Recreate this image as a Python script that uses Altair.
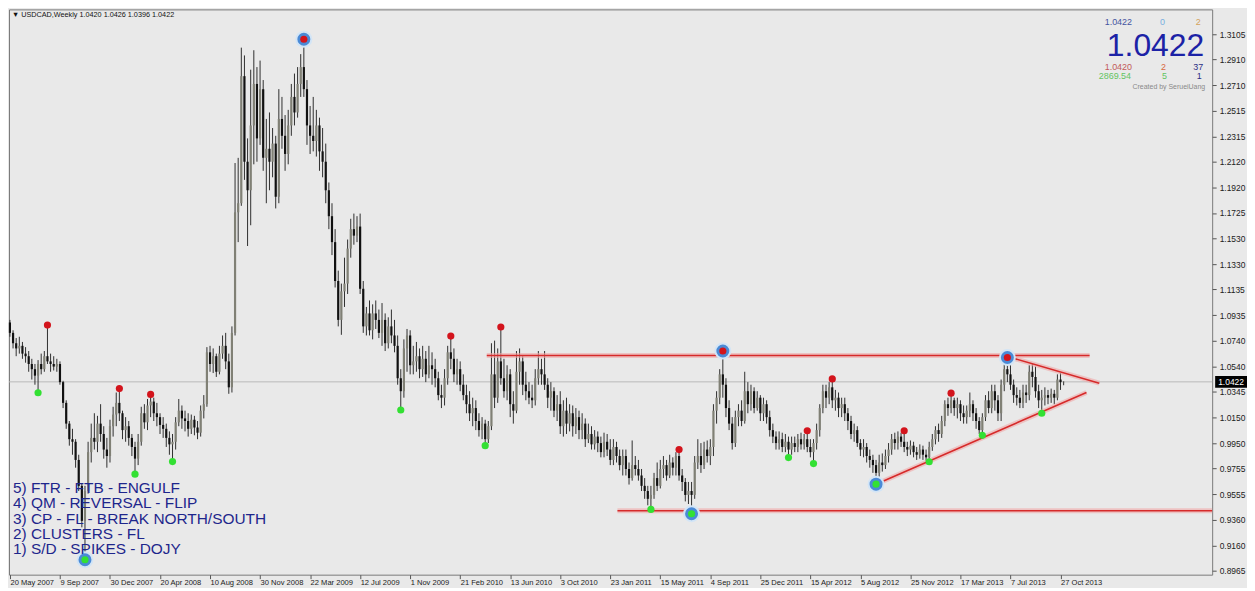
import json
import altair as alt
import pandas as pd

# ---------------- data ----------------
FIRST_OPEN = 1.0880
CLOSE = [
    1.0800, 1.0720, 1.0680, 1.0700, 1.0640, 1.0620, 1.0560, 1.0520, 1.0470, 1.0560,
    1.0520, 1.0620, 1.0580, 1.0560, 1.0540, 1.0560, 1.0420, 1.0260, 1.0100, 0.9980,
    0.9960, 0.9820, 0.9620, 0.9350, 0.9580, 0.9880, 0.9990, 0.9960, 1.0100, 1.0020,
    0.9900, 0.9850, 1.0080, 1.0170, 1.0260, 1.0180, 1.0050, 1.0080, 0.9990, 0.9920,
    0.9830, 0.9960, 1.0180, 1.0110, 1.0240, 1.0270, 1.0180, 1.0150, 1.0090, 1.0060,
    0.9990, 0.9940, 0.9960, 1.0110, 1.0200, 1.0140, 1.0120, 1.0060, 1.0130, 1.0070,
    1.0030, 1.0200, 1.0250, 1.0650, 1.0560, 1.0620, 1.0500, 1.0640, 1.0700, 1.0580,
    1.0380, 1.0800, 1.1730, 1.1800, 1.2780, 1.2120, 1.1900, 1.2400, 1.2720, 1.2300,
    1.2680, 1.2150, 1.2220, 1.2120, 1.2260, 1.1850, 1.2450, 1.2320, 1.2180, 1.2400,
    1.2620, 1.2500, 1.2720, 1.2850, 1.2680, 1.2400, 1.2320, 1.2280, 1.2400, 1.2200,
    1.2120, 1.1900, 1.1700, 1.1500, 1.1200, 1.0900, 1.1120, 1.1180, 1.1450, 1.1600,
    1.1550, 1.1620, 1.1140, 1.0850, 1.0950, 1.0820, 1.0950, 1.0900, 1.0800, 1.0900,
    1.0720, 1.0850, 1.0780, 1.0700, 1.0450, 1.0350, 1.0680, 1.0780, 1.0550, 1.0580,
    1.0620, 1.0520, 1.0600, 1.0480, 1.0550, 1.0520, 1.0450, 1.0320, 1.0300, 1.0450,
    1.0650, 1.0600, 1.0480, 1.0520, 1.0400, 1.0320, 1.0250, 1.0180, 1.0220, 1.0120,
    1.0050, 1.0100, 0.9980, 1.0080, 1.0480, 1.0300, 1.0580, 1.0450, 1.0350, 1.0480,
    1.0250, 1.0200, 1.0500, 1.0580, 1.0400, 1.0350, 1.0300, 1.0280, 1.0450, 1.0520,
    1.0480, 1.0400, 1.0300, 1.0350, 1.0200, 1.0250, 1.0080, 1.0200, 1.0100, 1.0180,
    1.0080, 1.0150, 1.0050, 1.0100, 0.9980, 1.0020, 0.9940, 1.0000, 0.9950, 0.9880,
    0.9960, 0.9900, 0.9820, 0.9920, 0.9850, 0.9780, 0.9850, 0.9750, 0.9680, 0.9780,
    0.9750, 0.9700, 0.9620, 0.9580, 0.9520, 0.9550, 0.9680, 0.9620, 0.9750, 0.9780,
    0.9700, 0.9800, 0.9760, 0.9850, 0.9700, 0.9650, 0.9550, 0.9580, 0.9550, 0.9800,
    0.9850, 0.9780, 0.9900, 0.9850, 0.9920, 1.0200, 1.0300, 1.0480, 1.0400, 1.0220,
    1.0100, 0.9950, 1.0150, 1.0200, 1.0120, 1.0350, 1.0250, 1.0350, 1.0220, 1.0300,
    1.0180, 1.0250, 1.0150, 1.0050, 1.0000, 0.9950, 0.9980, 0.9920, 0.9960, 0.9900,
    0.9950, 0.9920, 0.9980, 0.9940, 0.9980, 0.9920, 0.9880, 0.9950, 1.0050, 1.0220,
    1.0350, 1.0300, 1.0380, 1.0280, 1.0300, 1.0220, 1.0250, 1.0180, 1.0120, 1.0020,
    1.0050, 0.9950, 0.9900, 0.9920, 0.9850, 0.9820, 0.9780, 0.9720, 0.9800, 0.9780,
    0.9850, 0.9900, 0.9980, 0.9950, 1.0000, 0.9960, 0.9920, 0.9900, 0.9930, 0.9880,
    0.9860, 0.9900, 0.9860, 0.9840, 0.9920, 0.9980, 1.0050, 1.0020, 1.0120, 1.0250,
    1.0220, 1.0280, 1.0220, 1.0250, 1.0180, 1.0150, 1.0200, 1.0250, 1.0180, 1.0120,
    1.0050, 1.0150, 1.0280, 1.0220, 1.0350, 1.0280, 1.0180, 1.0400, 1.0520, 1.0480,
    1.0400, 1.0320, 1.0300, 1.0260, 1.0340, 1.0320, 1.0500, 1.0460, 1.0350, 1.0280,
    1.0300, 1.0320, 1.0300, 1.0330, 1.0300, 1.0440, 1.0420, 1.0422,
]
HIGH = [
    1.0900, 1.0820, 1.0760, 1.0770, 1.0730, 1.0690, 1.0660, 1.0600, 1.0560, 1.0590,
    1.0640, 1.0660, 1.0850, 1.0640, 1.0620, 1.0600, 1.0580, 1.0430, 1.0280, 1.0120,
    1.0060, 0.9980, 0.9860, 0.9640, 0.9620, 0.9960, 1.0100, 1.0180, 1.0160, 1.0250,
    1.0080, 0.9990, 1.0130, 1.0230, 1.0340, 1.0370, 1.0200, 1.0150, 1.0120, 1.0020,
    0.9960, 1.0020, 1.0230, 1.0250, 1.0290, 1.0325, 1.0300, 1.0260, 1.0180, 1.0150,
    1.0100, 1.0040, 1.0020, 1.0150, 1.0290, 1.0240, 1.0200, 1.0180, 1.0170, 1.0160,
    1.0120, 1.0240, 1.0320, 1.0690, 1.0700, 1.0680, 1.0640, 1.0700, 1.0780, 1.0800,
    1.0640, 1.0850, 1.2110, 1.2150, 1.3000, 1.2940, 1.2300, 1.2830, 1.2980, 1.2850,
    1.2900, 1.2750, 1.2450, 1.2500, 1.2380, 1.2320, 1.2680, 1.2620, 1.2480, 1.2520,
    1.2720, 1.2800, 1.2850, 1.2950, 1.3065, 1.2750, 1.2550, 1.2620, 1.2520, 1.2460,
    1.2380, 1.2260, 1.1960, 1.1800, 1.1600, 1.1280, 1.1180, 1.1380, 1.1520, 1.1680,
    1.1720, 1.1700, 1.1720, 1.1200, 1.1000, 1.1050, 1.1020, 1.1050, 1.0980, 1.1030,
    1.0950, 1.0920, 1.0980, 1.0900, 1.0780, 1.0520, 1.0750, 1.0830, 1.0820, 1.0700,
    1.0730, 1.0680, 1.0700, 1.0660, 1.0700, 1.0650, 1.0600, 1.0500, 1.0400, 1.0520,
    1.0700, 1.0775, 1.0680, 1.0600, 1.0580, 1.0480, 1.0400, 1.0350, 1.0300, 1.0280,
    1.0180, 1.0150, 1.0130, 1.0120, 1.0720, 1.0740, 1.0680, 1.0845, 1.0600, 1.0550,
    1.0520, 1.0350, 1.0660, 1.0680, 1.0620, 1.0500, 1.0420, 1.0400, 1.0520, 1.0660,
    1.0600, 1.0660, 1.0450, 1.0420, 1.0380, 1.0320, 1.0350, 1.0280, 1.0300, 1.0250,
    1.0240, 1.0220, 1.0200, 1.0180, 1.0140, 1.0100, 1.0080, 1.0050, 1.0040, 1.0000,
    1.0030, 1.0020, 0.9980, 0.9980, 0.9960, 0.9900, 0.9900, 0.9900, 0.9800, 0.9970,
    0.9850, 0.9820, 0.9750, 0.9680, 0.9620, 0.9620, 0.9720, 0.9800, 0.9820, 0.9850,
    0.9820, 0.9860, 0.9840, 0.9880, 0.9900, 0.9750, 0.9680, 0.9650, 0.9650, 0.9850,
    0.9980, 0.9950, 0.9960, 0.9970, 0.9980, 1.0250, 1.0350, 1.0520, 1.0657, 1.0450,
    1.0280, 1.0150, 1.0200, 1.0250, 1.0280, 1.0500, 1.0420, 1.0400, 1.0380, 1.0350,
    1.0320, 1.0300, 1.0280, 1.0200, 1.0100, 1.0040, 1.0040, 1.0030, 1.0020, 1.0000,
    1.0000, 1.0000, 1.0020, 1.0030, 1.0020, 1.0045, 0.9980, 0.9980, 1.0100, 1.0250,
    1.0400, 1.0400, 1.0420, 1.0445, 1.0360, 1.0340, 1.0300, 1.0300, 1.0220, 1.0160,
    1.0100, 1.0080, 0.9980, 0.9980, 0.9950, 0.9900, 0.9860, 0.9820, 0.9860, 0.9870,
    0.9900, 0.9950, 1.0020, 1.0030, 1.0040, 1.0030, 1.0045, 0.9960, 0.9970, 0.9960,
    0.9920, 0.9940, 0.9930, 0.9900, 0.9960, 1.0020, 1.0080, 1.0100, 1.0160, 1.0280,
    1.0300, 1.0335, 1.0300, 1.0300, 1.0280, 1.0240, 1.0240, 1.0340, 1.0280, 1.0220,
    1.0150, 1.0180, 1.0320, 1.0350, 1.0400, 1.0400, 1.0320, 1.0440, 1.0560, 1.0610,
    1.0550, 1.0440, 1.0380, 1.0360, 1.0400, 1.0400, 1.0550, 1.0560, 1.0540, 1.0400,
    1.0360, 1.0380, 1.0360, 1.0370, 1.0360, 1.0480, 1.0490, 1.0426,
]
LOW = [
    1.0770, 1.0680, 1.0620, 1.0640, 1.0600, 1.0570, 1.0500, 1.0440, 1.0400, 1.0340,
    1.0480, 1.0500, 1.0560, 1.0500, 1.0510, 1.0500, 1.0400, 1.0220, 1.0060, 0.9930,
    0.9860, 0.9760, 0.9580, 0.9300, 0.9050, 0.9560, 0.9800, 0.9900, 0.9880, 0.9960,
    0.9830, 0.9760, 0.9800, 1.0000, 1.0080, 1.0120, 0.9980, 0.9960, 0.9930, 0.9850,
    0.9710, 0.9780, 0.9930, 1.0060, 1.0050, 1.0150, 1.0120, 1.0080, 1.0020, 0.9990,
    0.9920, 0.9860, 0.9810, 0.9900, 1.0080, 1.0060, 1.0040, 1.0000, 1.0020, 1.0010,
    0.9980, 1.0000, 1.0140, 1.0230, 1.0500, 1.0490, 1.0460, 1.0480, 1.0600, 1.0520,
    1.0330, 1.0340, 1.0780, 1.1500, 1.1780, 1.1980, 1.1470, 1.1630, 1.2100, 1.2120,
    1.2250, 1.2050, 1.1800, 1.1900, 1.2000, 1.1760, 1.1800, 1.2220, 1.2050, 1.2100,
    1.2320, 1.2400, 1.2460, 1.2620, 1.2620, 1.2250, 1.2180, 1.2200, 1.2160, 1.2050,
    1.2000, 1.1800, 1.1600, 1.1400, 1.1150, 1.0850, 1.0785, 1.1000, 1.1100, 1.1380,
    1.1480, 1.1500, 1.1100, 1.0800, 1.0780, 1.0780, 1.0750, 1.0830, 1.0760, 1.0700,
    1.0660, 1.0680, 1.0720, 1.0650, 1.0400, 1.0207, 1.0300, 1.0500, 1.0480, 1.0480,
    1.0500, 1.0450, 1.0460, 1.0420, 1.0450, 1.0400, 1.0380, 1.0280, 1.0220, 1.0240,
    1.0400, 1.0520, 1.0420, 1.0400, 1.0350, 1.0280, 1.0180, 1.0120, 1.0080, 1.0050,
    1.0000, 0.9980, 0.9930, 0.9950, 1.0050, 1.0220, 1.0260, 1.0400, 1.0300, 1.0280,
    1.0150, 1.0100, 1.0180, 1.0400, 1.0320, 1.0280, 1.0250, 1.0220, 1.0240, 1.0400,
    1.0400, 1.0360, 1.0220, 1.0200, 1.0150, 1.0120, 1.0020, 1.0000, 1.0020, 1.0040,
    1.0000, 1.0020, 0.9980, 0.9980, 0.9920, 0.9950, 0.9900, 0.9900, 0.9880, 0.9840,
    0.9840, 0.9850, 0.9780, 0.9780, 0.9800, 0.9740, 0.9700, 0.9700, 0.9630, 0.9660,
    0.9700, 0.9660, 0.9580, 0.9520, 0.9470, 0.9440, 0.9520, 0.9580, 0.9600, 0.9680,
    0.9660, 0.9680, 0.9700, 0.9700, 0.9660, 0.9580, 0.9500, 0.9480, 0.9405, 0.9520,
    0.9750, 0.9720, 0.9750, 0.9800, 0.9780, 0.9850, 1.0100, 1.0250, 1.0300, 1.0150,
    1.0050, 0.9900, 0.9920, 1.0080, 1.0080, 1.0100, 1.0180, 1.0200, 1.0180, 1.0200,
    1.0120, 1.0120, 1.0100, 1.0000, 0.9950, 0.9900, 0.9900, 0.9880, 0.9880, 0.9840,
    0.9860, 0.9880, 0.9880, 0.9900, 0.9900, 0.9880, 0.9840, 0.9790, 0.9900, 1.0000,
    1.0180, 1.0220, 1.0250, 1.0220, 1.0200, 1.0150, 1.0150, 1.0120, 1.0050, 0.9980,
    0.9960, 0.9920, 0.9850, 0.9840, 0.9800, 0.9760, 0.9720, 0.9633, 0.9680, 0.9730,
    0.9750, 0.9800, 0.9860, 0.9900, 0.9900, 0.9920, 0.9880, 0.9850, 0.9860, 0.9840,
    0.9820, 0.9830, 0.9820, 0.9810, 0.9805, 0.9890, 0.9940, 0.9960, 0.9990, 1.0080,
    1.0160, 1.0180, 1.0160, 1.0140, 1.0120, 1.0100, 1.0100, 1.0150, 1.0120, 1.0060,
    1.0020, 1.0010, 1.0120, 1.0180, 1.0180, 1.0200, 1.0120, 1.0120, 1.0350, 1.0420,
    1.0360, 1.0260, 1.0240, 1.0220, 1.0220, 1.0260, 1.0280, 1.0380, 1.0300, 1.0220,
    1.0180, 1.0240, 1.0250, 1.0260, 1.0250, 1.0280, 1.0360, 1.0396,
]

WEEK_LABELS = ["20 May 2007", "9 Sep 2007", "30 Dec 2007", "20 Apr 2008", "10 Aug 2008",
               "30 Nov 2008", "22 Mar 2009", "12 Jul 2009", "1 Nov 2009", "21 Feb 2010",
               "13 Jun 2010", "3 Oct 2010", "23 Jan 2011", "15 May 2011", "4 Sep 2011",
               "25 Dec 2011", "15 Apr 2012", "5 Aug 2012", "25 Nov 2012", "17 Mar 2013",
               "7 Jul 2013", "27 Oct 2013"]
WEEK_TICKS = [0, 16, 32, 48, 64, 80, 96, 112, 128, 144, 160, 176, 192, 208, 224, 240,
              256, 272, 288, 304, 320, 336]
PRICE_TICKS = [1.3105, 1.2910, 1.2710, 1.2515, 1.2315, 1.2120, 1.1920, 1.1725, 1.1530,
               1.1330, 1.1135, 1.0935, 1.0740, 1.0540, 1.0345, 1.0150, 0.9950, 0.9755,
               0.9555, 0.9360, 0.9160, 0.8965]

DOT_WEEK = [12, 35, 45, 141, 157, 214, 255, 263, 286, 301, 94, 228, 319,
            9, 40, 52, 125, 152, 205, 249, 257, 294, 311, 330, 24, 218, 277]
DOT_PRICE = [1.0860, 1.0370, 1.0325, 1.0775, 1.0845, 0.9900, 1.0045, 1.0445, 1.0045,
             1.0335, 1.3065, 1.0660, 1.0610,
             1.0338, 0.9710, 0.9807, 1.0205, 0.9930, 0.9438, 0.9838, 0.9792, 0.9806,
             1.0010, 1.0180, 0.9050, 0.9405, 0.9633]
DOT_SIDE = ["high"] * 13 + ["low"] * 14
DOT_BIG = [0] * 10 + [1, 1, 1] + [0] * 11 + [1, 1, 1]

LINE_W1 = [152.5, 194.3, 319.0, 277.0]
LINE_P1 = [1.0626, 0.9428, 1.0618, 0.9633]
LINE_W2 = [345.3, 384.5, 348.4, 344.3]
LINE_P2 = [1.0626, 0.9428, 1.0412, 1.0340]

BID = 1.0422
HEADER = "\u25bc USDCAD,Weekly  1.0420 1.0426 1.0396 1.0422"
LEGEND_LINES = ["5) FTR - FTB - ENGULF", "4) QM - REVERSAL - FLIP",
                "3) CP - FL - BREAK NORTH/SOUTH", "2) CLUSTERS - FL",
                "1) S/D - SPIKES - DOJY"]

# ---------------- layout / style ----------------
W, H = 1209, 568
BG = "#e9e9e9"
FONT = "Liberation Sans, Arial, sans-serif"
BULL = "#808075"
BEAR = "#111111"
WICK = "#2e2e2e"
RED = "#d3141c"
GREEN = "#33e033"

df = pd.DataFrame({"week": list(range(len(CLOSE))),
                   "open": [FIRST_OPEN] + CLOSE[:-1],
                   "close": CLOSE, "high": HIGH, "low": LOW})
df["top"] = df[["high", "open", "close"]].max(axis=1)
df["bot"] = df[["low", "open", "close"]].min(axis=1)

XS = alt.Scale(domain=[-0.3, 384.5], nice=False, zero=False, padding=0)
YS = alt.Scale(domain=[0.8935, 1.3295], nice=False, zero=False, padding=0)
label_expr = json.dumps(WEEK_LABELS) + "[round(datum.value / 16)]"
XAXIS = alt.Axis(values=WEEK_TICKS, labelExpr=label_expr, title=None, grid=False,
                 domain=False, tickSize=4, tickColor="#555555", labelAlign="left",
                 labelBaseline="top", labelPadding=0, labelFontSize=7.6,
                 labelColor="#222222", labelFont=FONT, labelOverlap=False,
                 labelFlush=False)
YAXIS = alt.Axis(values=PRICE_TICKS, format=".4f", orient="right", title=None,
                 grid=False, domain=False, tickSize=4, tickColor="#555555",
                 labelFontSize=8.5, labelColor="#222222", labelFont=FONT,
                 labelPadding=3, labelOverlap=False, labelFlush=False)


def X(f):
    return alt.X(f, type="quantitative", scale=XS, axis=XAXIS)


def Y(f):
    return alt.Y(f, type="quantitative", scale=YS, axis=YAXIS)


bid = alt.Chart(pd.DataFrame({"p": [BID]})).mark_rule(
    color="#b9b9b9", strokeWidth=1).encode(y=Y("p"))

wicks = alt.Chart(df).mark_rule(color=WICK, strokeWidth=1).encode(
    x=X("week"), y=Y("bot"), y2="top")

bodies = alt.Chart(df).mark_bar(size=2.2).encode(
    x=X("week"), y=Y("open"), y2="close",
    color=alt.condition("datum.close >= datum.open", alt.value(BULL), alt.value(BEAR)))

ldf = pd.DataFrame({"w1": LINE_W1, "p1": LINE_P1, "w2": LINE_W2, "p2": LINE_P2})
glow = alt.Chart(ldf).mark_rule(color="#f0a8a8", strokeWidth=5, opacity=0.6).encode(
    x=X("w1"), x2="w2", y=Y("p1"), y2="p2")
lines = alt.Chart(ldf).mark_rule(color="#d62a2a", strokeWidth=1.6).encode(
    x=X("w1"), x2="w2", y=Y("p1"), y2="p2")

ddf = pd.DataFrame({"week": DOT_WEEK, "price": DOT_PRICE, "side": DOT_SIDE, "big": DOT_BIG})
big = ddf[ddf["big"] == 1]
halo = alt.Chart(big).mark_circle(size=290, color="#d3e5f6", opacity=1).encode(
    x=X("week"), y=Y("price"))
ring = alt.Chart(big).mark_circle(size=170, color="#4a8ad6", opacity=1).encode(
    x=X("week"), y=Y("price"))
dots = alt.Chart(ddf).mark_circle(size=52, opacity=1).encode(
    x=X("week"), y=Y("price"),
    color=alt.condition("datum.side == 'high'", alt.value(RED), alt.value(GREEN)))

ONE = pd.DataFrame({"a": [0]})


def label(text, x, y, size, color, align="left", weight="normal", font=FONT):
    return alt.Chart(ONE).mark_text(
        text=text, align=align, baseline="middle", fontSize=size, color=color,
        font=font, fontWeight=weight).encode(x=alt.value(x), y=alt.value(y))


texts = [label(HEADER, 3, 6, 7.3, "#111111")]
for k, line in enumerate(LEGEND_LINES):
    texts.append(label(line, 4, 481 + k * 15.3, 15.5, "#1e268c"))

texts += [
    label("1.0422", 1101, 12.5, 9, "#4454a0"),
    label("0", 1159, 12.5, 9, "#78aee0", align="center"),
    label("2", 1195, 12.5, 9, "#d3a25a", align="center"),
    label("1.0422", 1201, 36.5, 32, "#1c22a6", align="right"),
    label("1.0420", 1101, 57.5, 9, "#c25a5a"),
    label("2", 1160, 57.5, 9, "#d8683e", align="center"),
    label("37", 1200, 57.5, 9, "#2a2e84", align="right"),
    label("2869.54", 1095, 67, 9, "#62c462"),
    label("5", 1161, 67, 9, "#62c462", align="center"),
    label("1", 1196, 67, 9, "#2a2e84", align="center"),
    label("Created by SerueiUang", 1202, 78, 7, "#8a8a8a", align="right"),
]

bid_box = alt.Chart(pd.DataFrame({"p": [BID]})).mark_tick(
    color="#000000", thickness=12, size=32, opacity=1).encode(
    x=alt.value(W + 19), y=Y("p"))
bid_text = alt.Chart(pd.DataFrame({"p": [BID]})).mark_text(
    text="1.0422", color="#ffffff", fontSize=8.5, font=FONT, align="center",
    baseline="middle").encode(x=alt.value(W + 19), y=Y("p"))

chart = alt.layer(
    bid, wicks, bodies, glow, lines, halo, ring, dots, bid_box, bid_text, *texts
).properties(width=W, height=H, padding=0).configure(
    background=BG
).configure_view(fill=BG, stroke="#7a7a7a", strokeWidth=1)

chart.save("out.html", embed_options={"renderer": "svg", "actions": False})
